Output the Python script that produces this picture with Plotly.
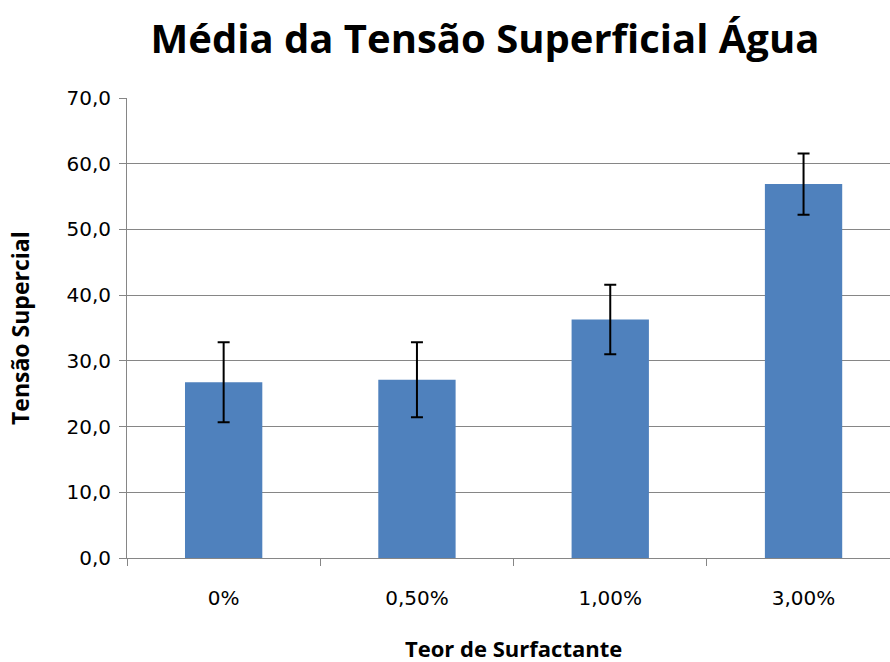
import plotly.graph_objects as go

categories = ["0%", "0,50%", "1,00%", "3,00%"]
means = [26.75, 27.13, 36.3, 56.9]
errors = [6.08, 5.7, 5.3, 4.67]
y_ticks = [0, 10, 20, 30, 40, 50, 60, 70]

W, H = 890, 662
L, R, T, B = 127, 0, 97.5, 104

fig = go.Figure()
fig.add_trace(go.Bar(
    x=categories, y=means,
    marker=dict(color="#4F81BD", line=dict(width=0)),
    error_y=dict(type="data", array=errors, visible=True,
                 color="black", thickness=2, width=6),
    width=0.4,
))

tfont = "'Open Sans', Lato, sans-serif"
kfont = "'DejaVu Sans', sans-serif"
fig.update_layout(
    width=W, height=H,
    margin=dict(l=L, r=R, t=T, b=B, pad=0),
    paper_bgcolor="white", plot_bgcolor="white",
    separators=",.",
    showlegend=False,
    font=dict(family=kfont, color="black", size=20),
    title=dict(text="<b>Média da Tensão Superficial Água</b>",
               xref="container", x=485 / W, xanchor="center",
               yref="container", y=1 - 39 / H, yanchor="middle",
               font=dict(size=40, family=tfont, color="black")),
    xaxis=dict(range=[-0.5, -0.5 + (W - L) / 193.3],
               showline=True, linecolor="#868686", linewidth=1,
               ticks="outside", ticklen=7, tickcolor="#868686",
               tickson="boundaries", showgrid=False,
               tickfont=dict(size=20, family=kfont), ticklabelstandoff=22),
    yaxis=dict(range=[0, 70], tickvals=y_ticks, tickformat=".1f",
               showline=True, linecolor="#868686", linewidth=1,
               ticks="outside", ticklen=7, tickcolor="#868686",
               showgrid=True, gridcolor="#868686", gridwidth=1,
               zeroline=False, tickfont=dict(size=20, family=kfont),
               ticklabelstandoff=4),
    annotations=[
        dict(text="<b>Teor de Surfactante</b>", xref="paper", yref="paper",
             x=(513 - L) / (W - L), y=-(648 - (H - B)) / (H - T - B),
             xanchor="center", yanchor="middle", showarrow=False,
             font=dict(size=22, family=tfont)),
        dict(text="<b>Tensão Supercial</b>", xref="paper", yref="paper",
             x=-(L - 20) / (W - L), y=0.5, textangle=-90,
             xanchor="center", yanchor="middle", showarrow=False,
             font=dict(size=23, family=tfont)),
    ],
)

fig.write_html("out.html", config={"displayModeBar": False},
               post_script="document.body.style.margin='0';")
